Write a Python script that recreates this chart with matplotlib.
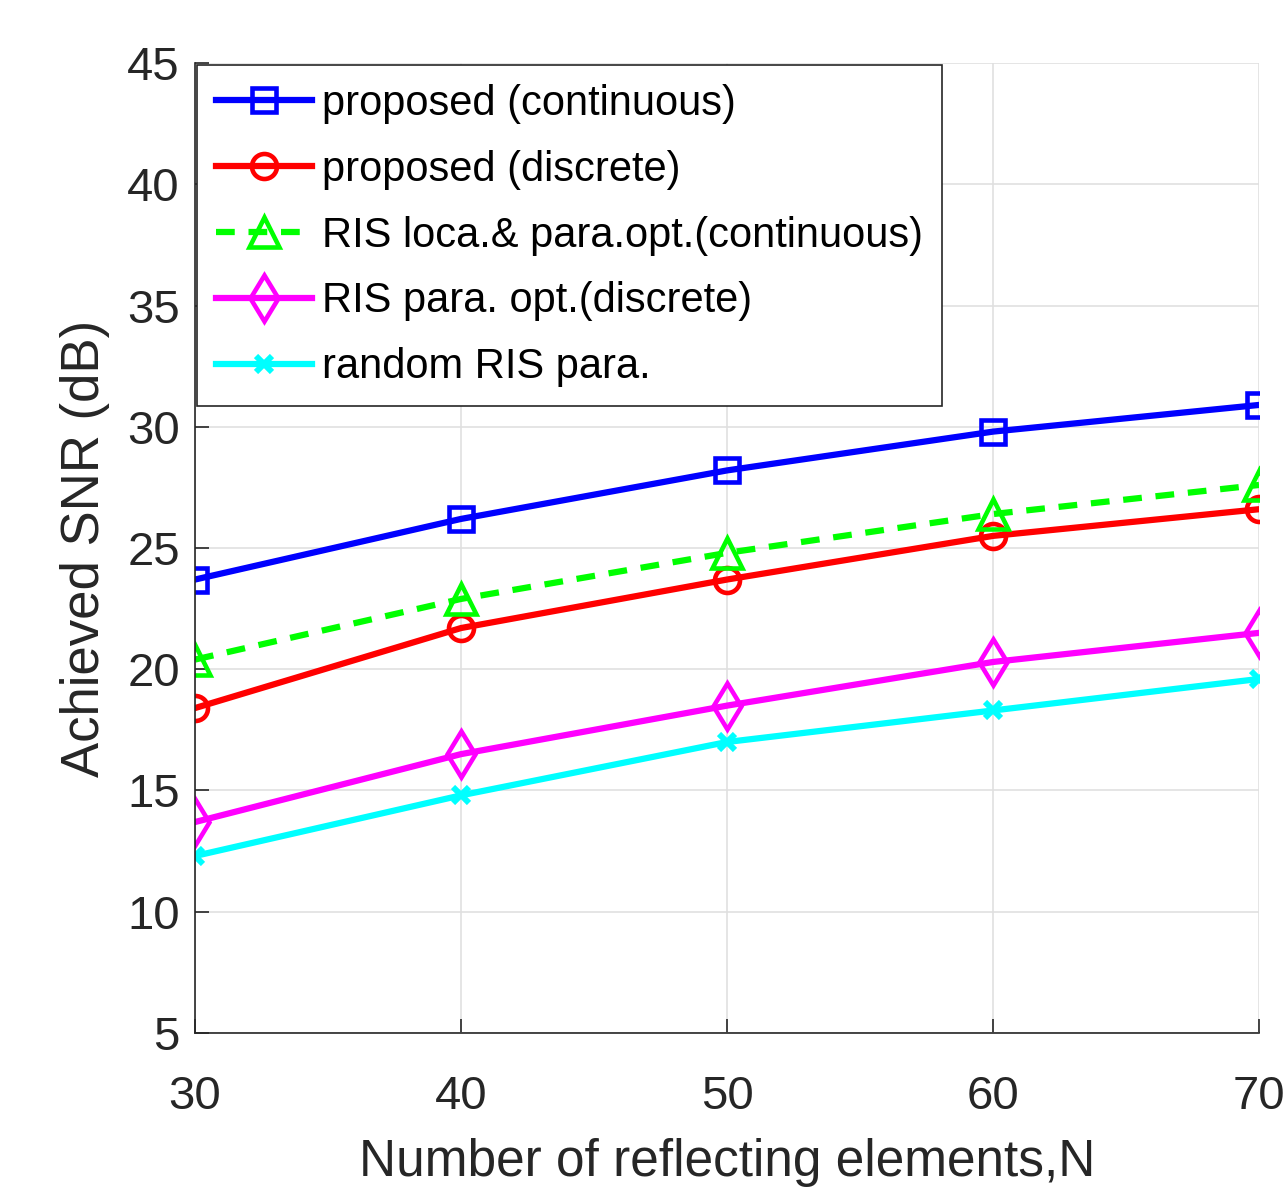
import matplotlib
matplotlib.use('Agg')
import matplotlib.pyplot as plt

# data
n_elements = [30, 40, 50, 60, 70]
snr_prop_cont = [23.7, 26.2, 28.2, 29.8, 30.9]
snr_prop_disc = [18.4, 21.7, 23.7, 25.5, 26.6]
snr_loc_para_cont = [20.4, 22.9, 24.8, 26.4, 27.6]
snr_para_disc = [13.7, 16.5, 18.5, 20.3, 21.5]
snr_random = [12.3, 14.8, 17.0, 18.3, 19.6]

labels = ['proposed (continuous)', 'proposed (discrete)',
          'RIS loca.& para.opt.(continuous)', 'RIS para. opt.(discrete)',
          'random RIS para.']

font = ['Liberation Sans', 'DejaVu Sans']
plt.rcParams['font.family'] = font

fig = plt.figure(figsize=(12.85, 11.96), dpi=100)
ax = fig.add_axes([0.1518, 0.1363, 0.828, 0.811])

lw = 4.5
ms = 18
mew = 3.3
ax.plot(n_elements, snr_prop_cont, color='#0000ff', lw=lw, marker='s', ms=ms - 1,
        mfc='none', mew=mew, label=labels[0])
ax.plot(n_elements, snr_prop_disc, color='#ff0000', lw=lw, marker='o', ms=ms,
        mfc='none', mew=mew, label=labels[1])
ax.plot(n_elements, snr_loc_para_cont, color='#00ff00', lw=lw, ls=(0, (3, 2.2)),
        marker='^', ms=ms + 3, mfc='none', mew=mew, label=labels[2])
ax.plot(n_elements, snr_para_disc, color='#ff00ff', lw=lw, marker='d', ms=ms + 5,
        mfc='none', mew=mew, label=labels[3])
ax.plot(n_elements, snr_random, color='#00ffff', lw=lw, marker='x', ms=ms - 6,
        mew=mew + 1, label=labels[4])

ax.set_xlim(30, 70)
ax.set_ylim(5, 45)
ax.set_xticks([30, 40, 50, 60, 70])
ax.set_yticks(range(5, 46, 5))
ax.grid(True, color='#e0e0e0', lw=1.2)
ax.set_axisbelow(True)
for s in ['left', 'bottom']:
    ax.spines[s].set_linewidth(1.2)
    ax.spines[s].set_color('#262626')
for s in ['top', 'right']:
    ax.spines[s].set_visible(False)

ax.tick_params(direction='in', length=10, width=1.2, colors='#262626',
               labelsize=34)
ax.tick_params(axis='x', pad=30)
ax.tick_params(axis='y', pad=11)

ax.set_xlabel('Number of reflecting elements,N', fontsize=37,
              color='#262626', labelpad=14)
ax.set_ylabel('Achieved SNR (dB)', fontsize=38, color='#262626', labelpad=12)

leg = ax.legend(loc='upper left', prop={'size': 30},
                frameon=True, fancybox=False, framealpha=1, edgecolor='#262626',
                borderaxespad=0.05, handlelength=2.3, handletextpad=0.25,
                labelspacing=0.62, borderpad=0.45)
leg.get_frame().set_linewidth(1.2)

fig.savefig('out.png', dpi=100)
